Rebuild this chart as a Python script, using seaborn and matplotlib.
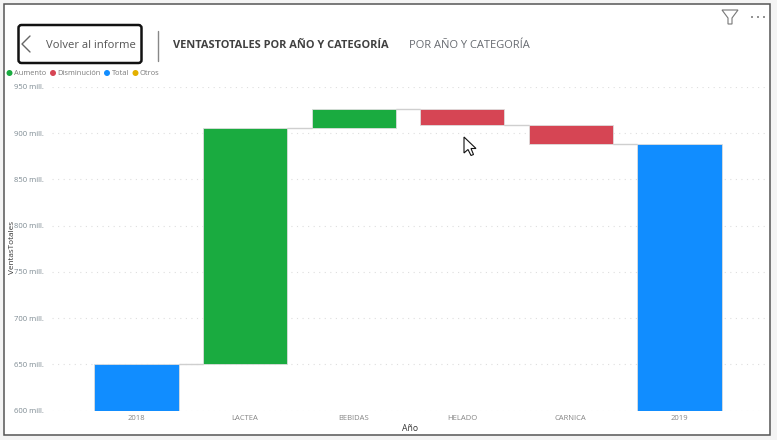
import matplotlib
matplotlib.use("Agg")
import matplotlib.pyplot as plt
from matplotlib.patches import Rectangle, FancyBboxPatch, Polygon, Circle
import pandas as pd
import seaborn as sns

W, H = 777, 440

categories = ["2018", "LACTEA", "BEBIDAS", "HELADO", "CARNICA", "2019"]
bar_start = [600, 650, 906, 926, 909, 600]
bar_end = [650, 906, 926, 909, 888.5, 888.5]
kinds = ["Total", "Aumento", "Aumento", "Disminución", "Disminución", "Total"]
y_ticks = [600, 650, 700, 750, 800, 850, 900, 950]
legend_names = ["Aumento", "Disminución", "Total", "Otros"]
legend_colors = ["#1AAB40", "#D64554", "#118DFF", "#E3B000"]

sns.set_theme(style="white")
plt.rcParams["font.family"] = ["Open Sans", "DejaVu Sans"]

df = pd.DataFrame({"cat": categories, "start": bar_start, "end": bar_end, "kind": kinds})
df["low"] = df[["start", "end"]].min(axis=1)
df["height"] = (df["end"] - df["start"]).abs()

fig = plt.figure(figsize=(W / 100, H / 100), dpi=100, facecolor="#f4f4f4")


# pixel position in the screenshot -> figure coords
def fx(x):
    return x / W


def fy(y):
    return 1 - y / H


# report card, has to stay under the axes
fig.patches.append(Rectangle((fx(3.5), fy(435)), 766.5 / W, 431 / H, transform=fig.transFigure,
                             facecolor="white", edgecolor="#555555", linewidth=1.1, zorder=-1))

ax = fig.add_axes([fx(52), fy(410.5), 713 / W, 323.5 / H])
ax.patch.set_alpha(0)

sns.barplot(data=df, x="cat", y="height", bottom=df["low"].values, color="#118DFF",
            saturation=1, width=0.775, edgecolor="#dddddd", linewidth=0.6, ax=ax, zorder=3)

# one colour per kind, same order as the bars
kind_color = dict(zip(legend_names, legend_colors))
for bar, kind in zip(ax.patches, kinds):
    bar.set_facecolor(kind_color[kind])

# connectors between bars
half = 0.775 / 2
for i in range(len(categories) - 1):
    ax.plot([i + half, i + 1 - half], [bar_end[i], bar_end[i]], color="#cfcfcf", lw=1, zorder=2)

ax.set_xlim(-0.778, 5.788)
ax.set_ylim(600, 950)
ax.set_yticks(y_ticks)
ax.set_yticklabels([f"{v} mill." for v in y_ticks])
ax.grid(axis="y", color="#dedede", linestyle=(0, (1, 4)), linewidth=0.8)
ax.set_axisbelow(True)
ax.tick_params(axis="y", labelsize=5.5, labelcolor="#7d8a92", length=0, pad=6)
ax.tick_params(axis="x", labelsize=5.5, labelcolor="#858585", length=0, pad=3)
sns.despine(ax=ax, left=True, bottom=True)
ax.set_xlabel("")
ax.set_ylabel("")

fig.text(fx(12.5), fy(248), "VentasTotales", rotation=90, fontsize=5.9, color="#333333", ha="center", va="center")
fig.text(fx(410), fy(428), "Año", fontsize=6.2, color="#333333", ha="center", va="center")

# legend
dot_x = [9.5, 53, 107, 135.5]
for name, color, x in zip(legend_names, legend_colors, dot_x):
    fig.patches.append(Circle((x, H - 73), 3, transform=None, facecolor=color, edgecolor="none"))
    fig.text(fx(x + 4.5), fy(73.5), name, fontsize=5.4, color="#7a7a7a", va="center")

# back button
fig.patches.append(FancyBboxPatch((18.5, H - 63), 123, 38, boxstyle="round,pad=0,rounding_size=3",
                                  transform=None, facecolor="white", edgecolor="#111111", linewidth=1.8))
fig.add_artist(plt.Line2D([fx(30), fx(22), fx(30)], [fy(36), fy(44), fy(52)], color="#666666", lw=1))
fig.text(fx(46), fy(45.5), "Volver al informe", fontsize=8.1, color="#555555", va="center")
fig.add_artist(plt.Line2D([fx(157.5), fx(157.5)], [fy(31), fy(61)], color="#888888", lw=1))

# tabs
fig.text(fx(173), fy(45), "VENTASTOTALES POR AÑO Y CATEGORÍA", fontsize=7.9, fontweight="bold",
         color="#404040", va="center")
fig.text(fx(409), fy(45), "POR AÑO Y CATEGORÍA", fontsize=8.0, color="#666a70", va="center")

# filter icon and menu dots
fig.patches.append(Polygon([(722, H - 10), (738, H - 10), (732, H - 18), (732, H - 24), (728, H - 24), (728, H - 18)],
                           transform=None, facecolor="white", edgecolor="#777777", linewidth=0.8))
for x in [752, 758, 764]:
    fig.patches.append(Circle((x, H - 17), 1, transform=None, facecolor="#777777", edgecolor="none"))

# mouse pointer
cursor = [(464, 137), (464, 153), (468, 149.5), (471, 155.5), (473.5, 154.5), (471, 148.5), (476, 148.5)]
fig.patches.append(Polygon([(x, H - y) for x, y in cursor], transform=None, facecolor="white",
                           edgecolor="#111111", linewidth=0.8, zorder=10))

fig.savefig("out.png", dpi=100, facecolor=fig.get_facecolor())
